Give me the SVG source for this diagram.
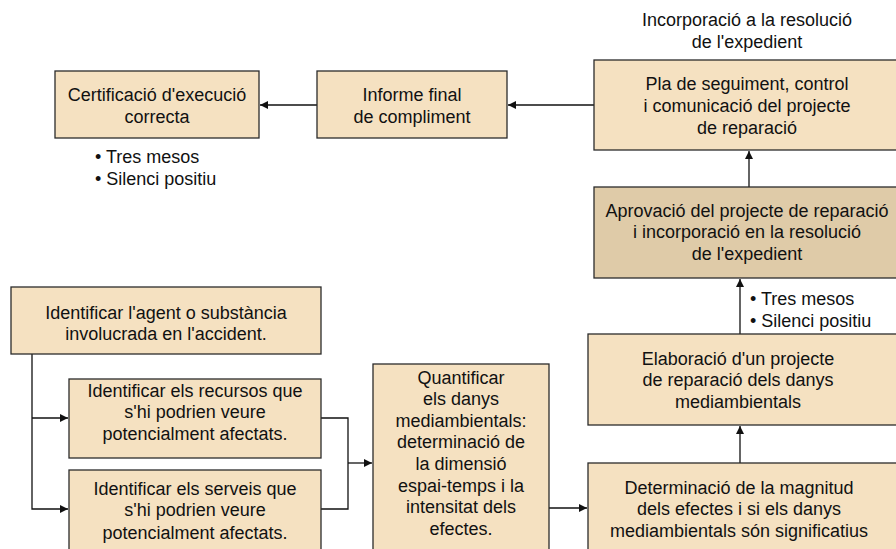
<svg xmlns="http://www.w3.org/2000/svg" width="896" height="549" viewBox="0 0 896 549">
<defs>
<marker id="ah" viewBox="0 0 10 10" refX="10" refY="5" markerWidth="8" markerHeight="8" markerUnits="userSpaceOnUse" orient="auto">
<path d="M0,0 L10,5 L0,10 z" fill="#111"/>
</marker>
<style>
.box{fill:#f5e1c1;stroke:#2b2b2b;stroke-width:1.3}
.dark{fill:#dfcba8}
text{font-family:"Liberation Sans",Arial,sans-serif;font-size:18px;fill:#111}
.c{text-anchor:middle}
.ln{fill:none;stroke:#111;stroke-width:1.3}
</style>
</defs>
<rect width="896" height="549" fill="#fff"/>
<g id="connectors">
<path class="ln" d="M317,105 H260" marker-end="url(#ah)"/>
<path class="ln" d="M594,105 H508" marker-end="url(#ah)"/>
<path class="ln" d="M749,187 V151" marker-end="url(#ah)"/>
<path class="ln" d="M740,334 V279" marker-end="url(#ah)"/>
<path class="ln" d="M740,463 V426" marker-end="url(#ah)"/>
<path class="ln" d="M549,508 H587" marker-end="url(#ah)"/>
<path class="ln" d="M32,354 V509 H68" marker-end="url(#ah)"/>
<path class="ln" d="M32,418 H68" marker-end="url(#ah)"/>
<path class="ln" d="M321,418 H348 V509 H321"/>
<path class="ln" d="M348,463 H372" marker-end="url(#ah)"/>
</g>
<g id="certificacio">
<rect class="box" x="55" y="71" width="204" height="67"/>
<text class="c" x="157" y="101">Certificació d'execució</text>
<text class="c" x="157" y="123">correcta</text>
</g>
<g id="cert-notes">
<text x="95" y="163">• Tres mesos</text>
<text x="95" y="185">• Silenci positiu</text>
</g>
<g id="informe">
<rect class="box" x="317" y="71" width="190" height="67"/>
<text class="c" x="412" y="101">Informe final</text>
<text class="c" x="412" y="123">de compliment</text>
</g>
<g id="incorporacio-label">
<text class="c" x="747" y="26">Incorporació a la resolució</text>
<text class="c" x="747" y="48">de l'expedient</text>
</g>
<g id="pla">
<rect class="box" x="594" y="60" width="310" height="90"/>
<text class="c" x="747" y="90">Pla de seguiment, control</text>
<text class="c" x="747" y="112">i comunicació del projecte</text>
<text class="c" x="747" y="134">de reparació</text>
</g>
<g id="aprovacio">
<rect class="box dark" x="594" y="187" width="310" height="91"/>
<text class="c" x="747" y="217">Aprovació del projecte de reparació</text>
<text class="c" x="747" y="238">i incorporació en la resolució</text>
<text class="c" x="747" y="260">de l'expedient</text>
</g>
<g id="apro-notes">
<text x="750" y="305">• Tres mesos</text>
<text x="750" y="327">• Silenci positiu</text>
</g>
<g id="elaboracio">
<rect class="box" x="588" y="334" width="316" height="91"/>
<text class="c" x="738" y="365">Elaboració d'un projecte</text>
<text class="c" x="738" y="386">de reparació dels danys</text>
<text class="c" x="738" y="408">mediambientals</text>
</g>
<g id="determinacio">
<rect class="box" x="588" y="463" width="316" height="92"/>
<text class="c" x="739" y="494">Determinació de la magnitud</text>
<text class="c" x="739" y="515">dels efectes i si els danys</text>
<text class="c" x="739" y="537">mediambientals són significatius</text>
</g>
<g id="quantificar">
<rect class="box" x="373" y="364" width="176" height="190"/>
<text class="c" x="461" y="384">Quantificar</text>
<text class="c" x="461" y="405">els danys</text>
<text class="c" x="461" y="427">mediambientals:</text>
<text class="c" x="461" y="448">determinació de</text>
<text class="c" x="461" y="470">la dimensió</text>
<text class="c" x="461" y="492">espai-temps i la</text>
<text class="c" x="461" y="513">intensitat dels</text>
<text class="c" x="461" y="535">efectes.</text>
</g>
<g id="agent">
<rect class="box" x="11" y="287" width="310" height="67"/>
<text class="c" x="166" y="319">Identificar l'agent o substància</text>
<text class="c" x="166" y="340">involucrada en l'accident.</text>
</g>
<g id="recursos">
<rect class="box" x="69" y="379" width="252" height="79"/>
<text class="c" x="195" y="397">Identificar els recursos que</text>
<text class="c" x="195" y="418">s'hi podrien veure</text>
<text class="c" x="195" y="440">potencialment afectats.</text>
</g>
<g id="serveis">
<rect class="box" x="69" y="470" width="252" height="84"/>
<text class="c" x="195" y="495">Identificar els serveis que</text>
<text class="c" x="195" y="516">s'hi podrien veure</text>
<text class="c" x="195" y="539">potencialment afectats.</text>
</g>
</svg>
